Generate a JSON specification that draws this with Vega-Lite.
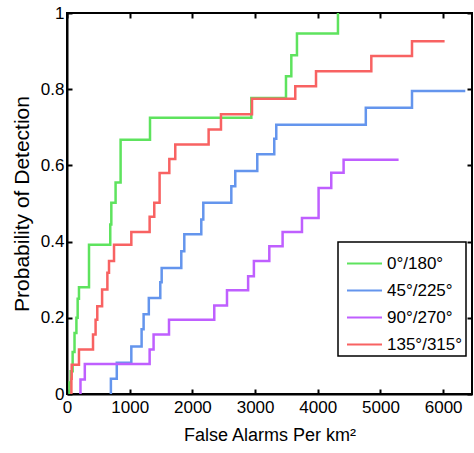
{
  "$schema": "https://vega.github.io/schema/vega-lite/v6.json",
  "autosize": {"type": "none"},
  "padding": {"left": 67, "top": 13, "right": 2, "bottom": 59},
  "width": 405,
  "height": 381,
  "background": "white",
  "config": {
    "font": "Liberation Sans",
    "view": {"stroke": "black", "strokeWidth": 2},
    "axis": {
      "domainColor": "black", "domainWidth": 2, "tickColor": "black", "tickWidth": 2,
      "tickSize": -5, "grid": false, "labelColor": "black", "titleColor": "black",
      "labelFontSize": 17, "titleFontSize": 18, "titleFontWeight": "normal", "labelFont": "Liberation Sans", "titleFont": "Liberation Sans"
    }
  },
  "data": {"values": [
    {"s": "0°/180°", "x": 30, "y": 0},
    {"s": "0°/180°", "x": 40, "y": 0.03},
    {"s": "0°/180°", "x": 60, "y": 0.06},
    {"s": "0°/180°", "x": 90, "y": 0.11},
    {"s": "0°/180°", "x": 120, "y": 0.16},
    {"s": "0°/180°", "x": 150, "y": 0.2},
    {"s": "0°/180°", "x": 170, "y": 0.25},
    {"s": "0°/180°", "x": 191, "y": 0.28},
    {"s": "0°/180°", "x": 351, "y": 0.392},
    {"s": "0°/180°", "x": 690, "y": 0.445},
    {"s": "0°/180°", "x": 707, "y": 0.502},
    {"s": "0°/180°", "x": 775, "y": 0.555},
    {"s": "0°/180°", "x": 855, "y": 0.667},
    {"s": "0°/180°", "x": 1324, "y": 0.725},
    {"s": "0°/180°", "x": 2940, "y": 0.777},
    {"s": "0°/180°", "x": 3493, "y": 0.834},
    {"s": "0°/180°", "x": 3578, "y": 0.889},
    {"s": "0°/180°", "x": 3668, "y": 0.946},
    {"s": "0°/180°", "x": 4322, "y": 1.0},
    {"s": "45°/225°", "x": 695, "y": 0},
    {"s": "45°/225°", "x": 700, "y": 0.04},
    {"s": "45°/225°", "x": 794, "y": 0.082},
    {"s": "45°/225°", "x": 1026, "y": 0.125},
    {"s": "45°/225°", "x": 1190, "y": 0.17},
    {"s": "45°/225°", "x": 1222, "y": 0.209},
    {"s": "45°/225°", "x": 1305, "y": 0.252},
    {"s": "45°/225°", "x": 1488, "y": 0.293},
    {"s": "45°/225°", "x": 1510, "y": 0.331},
    {"s": "45°/225°", "x": 1823, "y": 0.375},
    {"s": "45°/225°", "x": 1871, "y": 0.419},
    {"s": "45°/225°", "x": 2142, "y": 0.458},
    {"s": "45°/225°", "x": 2174, "y": 0.502},
    {"s": "45°/225°", "x": 2621, "y": 0.545},
    {"s": "45°/225°", "x": 2684, "y": 0.585},
    {"s": "45°/225°", "x": 3035, "y": 0.629},
    {"s": "45°/225°", "x": 3306, "y": 0.67},
    {"s": "45°/225°", "x": 3338, "y": 0.707},
    {"s": "45°/225°", "x": 4766, "y": 0.751},
    {"s": "45°/225°", "x": 5503, "y": 0.795},
    {"s": "45°/225°", "x": 6353, "y": 0.795},
    {"s": "90°/270°", "x": 204, "y": 0},
    {"s": "90°/270°", "x": 215, "y": 0.038},
    {"s": "90°/270°", "x": 284, "y": 0.079},
    {"s": "90°/270°", "x": 1318, "y": 0.117},
    {"s": "90°/270°", "x": 1381, "y": 0.156},
    {"s": "90°/270°", "x": 1627, "y": 0.195},
    {"s": "90°/270°", "x": 2349, "y": 0.232},
    {"s": "90°/270°", "x": 2552, "y": 0.272},
    {"s": "90°/270°", "x": 2889, "y": 0.309},
    {"s": "90°/270°", "x": 2981, "y": 0.349},
    {"s": "90°/270°", "x": 3227, "y": 0.388},
    {"s": "90°/270°", "x": 3439, "y": 0.425},
    {"s": "90°/270°", "x": 3748, "y": 0.462},
    {"s": "90°/270°", "x": 4013, "y": 0.541},
    {"s": "90°/270°", "x": 4215, "y": 0.581},
    {"s": "90°/270°", "x": 4412, "y": 0.615},
    {"s": "90°/270°", "x": 5289, "y": 0.615},
    {"s": "135°/315°", "x": 57, "y": 0},
    {"s": "135°/315°", "x": 70, "y": 0.04},
    {"s": "135°/315°", "x": 75, "y": 0.077},
    {"s": "135°/315°", "x": 191, "y": 0.117},
    {"s": "135°/315°", "x": 415, "y": 0.156},
    {"s": "135°/315°", "x": 456, "y": 0.195},
    {"s": "135°/315°", "x": 483, "y": 0.23},
    {"s": "135°/315°", "x": 560, "y": 0.274},
    {"s": "135°/315°", "x": 644, "y": 0.318},
    {"s": "135°/315°", "x": 670, "y": 0.349},
    {"s": "135°/315°", "x": 750, "y": 0.392},
    {"s": "135°/315°", "x": 1026, "y": 0.425},
    {"s": "135°/315°", "x": 1318, "y": 0.465},
    {"s": "135°/315°", "x": 1392, "y": 0.502},
    {"s": "135°/315°", "x": 1477, "y": 0.58},
    {"s": "135°/315°", "x": 1632, "y": 0.617},
    {"s": "135°/315°", "x": 1727, "y": 0.655},
    {"s": "135°/315°", "x": 2259, "y": 0.694},
    {"s": "135°/315°", "x": 2456, "y": 0.734},
    {"s": "135°/315°", "x": 2951, "y": 0.775},
    {"s": "135°/315°", "x": 3641, "y": 0.808},
    {"s": "135°/315°", "x": 3972, "y": 0.847},
    {"s": "135°/315°", "x": 4854, "y": 0.887},
    {"s": "135°/315°", "x": 5503, "y": 0.926},
    {"s": "135°/315°", "x": 6023, "y": 0.926}
  ]},
  "layer": [
    {
      "mark": {"type": "line", "interpolate": "step-after", "strokeWidth": 2.5, "clip": true},
      "encoding": {
        "x": {
          "field": "x", "type": "quantitative",
          "scale": {"domain": [0, 6460], "nice": false, "zero": false},
          "axis": {"values": [0, 1000, 2000, 3000, 4000, 5000, 6000], "format": "d", "title": "False Alarms Per km²", "labelPadding": 10, "titlePadding": 11, "labelFlush": false}
        },
        "y": {
          "field": "y", "type": "quantitative",
          "scale": {"domain": [0, 1], "nice": false},
          "axis": {"values": [0, 0.2, 0.4, 0.6, 0.8, 1], "format": "~g", "title": "Probability of Detection", "titleFontSize": 21, "labelPadding": 8, "titlePadding": 8, "labelFlush": false}
        },
        "color": {
          "field": "s", "type": "nominal",
          "scale": {"domain": ["0°/180°", "45°/225°", "90°/270°", "135°/315°"], "range": ["#5ee35e", "#6495ed", "#bf5fff", "#f86262"]},
          "legend": {
            "title": null, "orient": "none", "legendX": 271, "legendY": 229,
            "fillColor": "white", "strokeColor": "black",
            "padding": 3, "symbolOffset": 5, "symbolType": "stroke", "symbolSize": 1225, "symbolStrokeWidth": 2,
            "rowPadding": 0, "labelFontSize": 17, "labelFont": "Liberation Sans", "labelColor": "black", "labelOffset": 4, "labelLimit": 200,
            "encode": {"legend": {"update": {"strokeWidth": {"value": 1.5}}}}
          }
        }
      }
    },
    {
      "mark": {"type": "point", "opacity": 0},
      "encoding": {
        "x": {
          "field": "x", "type": "quantitative",
          "scale": {"domain": [0, 6460], "nice": false, "zero": false},
          "axis": {"orient": "top", "values": [0, 1000, 2000, 3000, 4000, 5000, 6000], "labels": false, "title": null, "domain": false}
        },
        "y": {
          "field": "y", "type": "quantitative",
          "scale": {"domain": [0, 1], "nice": false},
          "axis": {"orient": "right", "values": [0, 0.2, 0.4, 0.6, 0.8, 1], "labels": false, "title": null, "domain": false}
        }
      }
    }
  ],
  "resolve": {"axis": {"x": "independent", "y": "independent"}}
}
